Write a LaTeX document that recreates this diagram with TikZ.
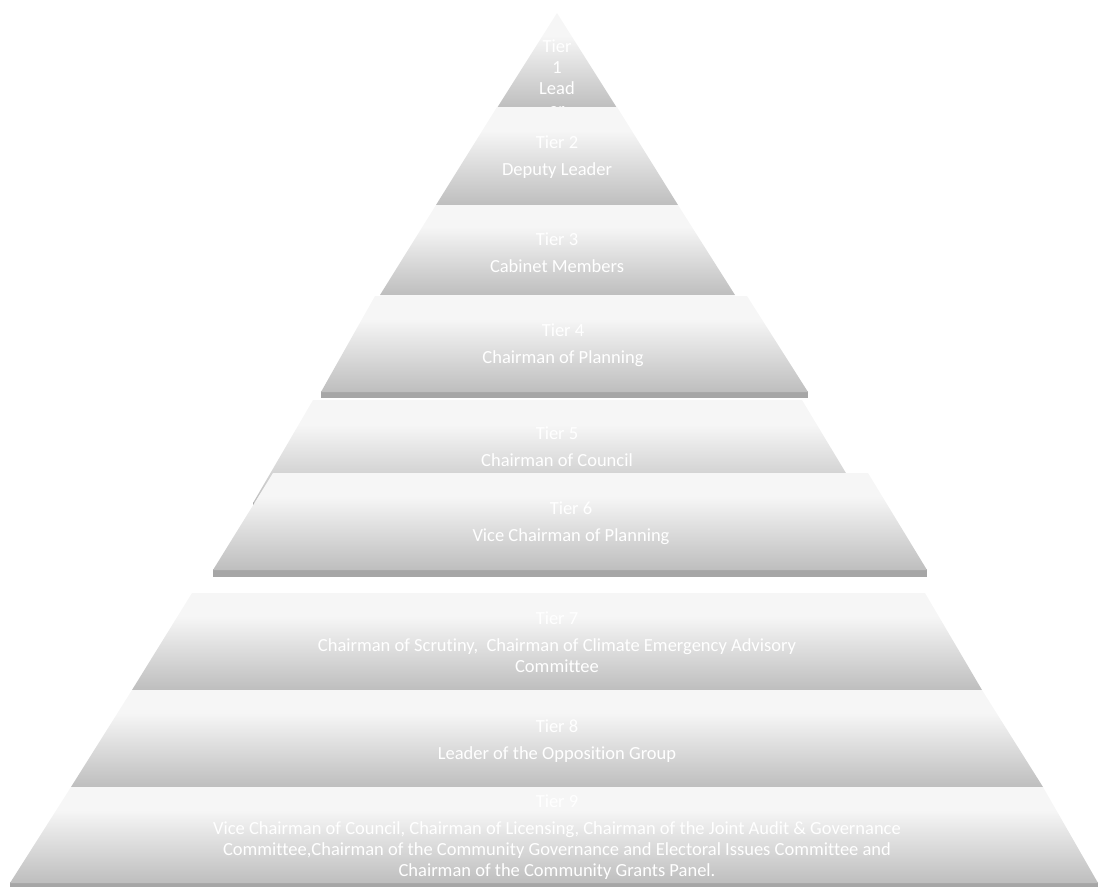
\documentclass[tikz,border=0pt]{standalone}
\usepackage{fontspec}
\setmainfont{Carlito}[Ligatures=NoCommon]
\usepackage{tikz}

\definecolor{tiertop}{HTML}{F6F6F6}
\definecolor{tierbot}{HTML}{BEBEBE}
\definecolor{tierrim}{HTML}{A6A6A6}
\pgfdeclareverticalshading{tiershade}{100bp}{color(0bp)=(tierbot); color(25bp)=(tierbot); color(63bp)=(tiertop); color(75bp)=(tiertop); color(100bp)=(tiertop)}

\begin{document}
\begin{tikzpicture}[x=1pt,y=1pt]
            \tikzstyle{every node}+=[inner sep=0pt]
            \tikzstyle{tier}=[shading=tiershade]
            \tikzstyle{rim}=[fill=tierrim]
            \tikzstyle{tiertext}=[anchor=north, align=center, text=white, font=\fontsize{18.5}{21}\selectfont]
            \useasboundingbox (0,0) rectangle (1100,-887);
            % tier 1
            \shade [tier] (557,-13) -- (617,-108) -- (497,-108) -- cycle;
            \node [tiertext] (t1) at (557,-40) {Tier\\1\\Lead\\er};
            % tier 2
            \shade [tier] (497,-107) -- (617,-107) -- (678,-205) -- (436,-205) -- cycle;
            \node [tiertext] (t2) at (557,-136) {Tier 2\\[6pt]Deputy Leader};
            % tier 3
            \shade [tier] (436,-205) -- (678,-205) -- (735,-295) -- (380,-295) -- cycle;
            \node [tiertext] (t3) at (557,-233) {Tier 3\\[6pt]Cabinet Members};
            % tier 4
            \fill [rim] (321,-391) rectangle (808,-398);
            \shade [tier] (375,-296) -- (747,-296) -- (808,-392) -- (321,-392) -- cycle;
            \node [tiertext] (t4) at (563,-324) {Tier 4\\[6pt]Chairman of Planning};
            % tier 5
            \fill [rim] (253,-502) rectangle (864,-509);
            \shade [tier] (313,-400) -- (802,-400) -- (864,-503) -- (253,-503) -- cycle;
            \node [tiertext] (t5) at (557,-427) {Tier 5\\[6pt]Chairman of Council};
            % tier 6
            \fill [rim] (213,-569) rectangle (927,-577);
            \shade [tier] (273,-473) -- (868,-473) -- (927,-570) -- (213,-570) -- cycle;
            \node [tiertext] (t6) at (571,-502) {Tier 6\\[6pt]Vice Chairman of Planning};
            % tier 7
            \shade [tier] (192,-593) -- (925,-593) -- (982,-690) -- (132,-690) -- cycle;
            \node [tiertext] (t7) at (557,-612) {Tier 7\\[6pt]Chairman of Scrutiny,~ Chairman of Climate Emergency Advisory\\Committee};
            % tier 8
            \shade [tier] (132,-690) -- (982,-690) -- (1043,-787) -- (71,-787) -- cycle;
            \node [tiertext] (t8) at (557,-720) {Tier 8\\[6pt]Leader of the Opposition Group};
            % tier 9
            \fill [rim] (10,-882) rectangle (1098,-887);
            \shade [tier] (71,-787) -- (1043,-787) -- (1098,-883) -- (10,-883) -- cycle;
            \node [tiertext] (t9) at (557,-795) {Tier 9\\[6pt]Vice Chairman of Council, Chairman of Licensing, Chairman of the Joint Audit \& Governance\\Committee,Chairman of the Community Governance and Electoral Issues Committee and\\Chairman of the Community Grants Panel.};
\end{tikzpicture}
\end{document}
